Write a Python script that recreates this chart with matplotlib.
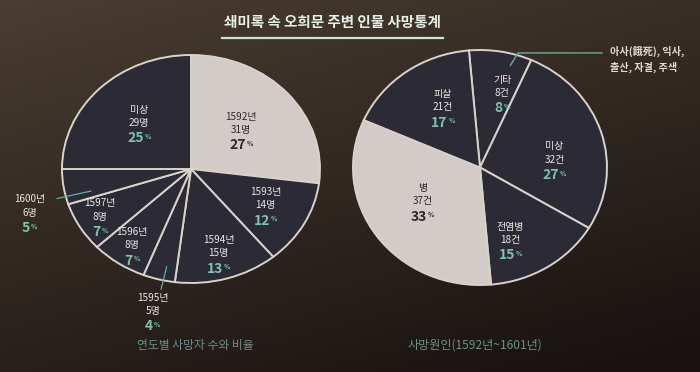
import matplotlib
matplotlib.use("Agg")
import matplotlib.pyplot as plt
import numpy as np

plt.rcParams['font.family'] = ['Noto Sans CJK KR', 'DejaVu Sans']

# ==========================
# Data
# ==========================
years = ['1592년', '1593년', '1594년', '1595년', '1596년', '1597년', '1600년', '미상']
year_counts = [31, 14, 15, 5, 8, 8, 6, 29]
year_pcts = [27, 12, 13, 4, 7, 7, 5, 25]

causes = ['기타', '미상', '전염병', '병', '피살']
cause_counts = [8, 32, 18, 37, 21]
cause_pcts = [8, 27, 15, 33, 17]

title = '쇄미록 속 오희문 주변 인물 사망통계'
left_caption = '연도별 사망자 수와 비율'
right_caption = '사망원인(1592년~1601년)'
other_note = '아사(餓死), 익사,\n출산, 자결, 주색'

# ==========================
# Style
# ==========================
DARK = '#2c2b35'
LIGHT = '#d3cbc7'
EDGE = '#d9d2cb'
TEXT_LIGHT = '#ebe7e1'
TEXT_DARK = '#2a2930'
TEAL = '#7cc4aa'
LEADER = '#66ad9e'


def put_label(ax, x, y, name, count, unit, pct, on_light=False):
    fg = TEXT_DARK if on_light else TEXT_LIGHT
    pc = TEXT_DARK if on_light else TEAL
    kw = dict(textcoords='offset points', ha='center', va='center', annotation_clip=False)
    ax.annotate(name, (x, y), xytext=(0, 9.5), fontsize=7.2, color=fg, **kw)
    ax.annotate(f'{count}{unit}', (x, y), xytext=(0, 0), fontsize=7.2, color=fg, **kw)
    num = ax.annotate(str(pct), (x, y), xytext=(-2.5, -11), fontsize=10, weight='bold',
                      color=pc, **kw)
    ax.annotate('%', xy=(1, 0.62), xycoords=num, xytext=(0.6, 0), textcoords='offset points',
                ha='left', va='center', fontsize=4.8, weight='bold', color=pc)


def polar(angle, r):
    a = np.deg2rad(angle)
    return r * np.cos(a), r * np.sin(a)


fig = plt.figure(figsize=(7, 3.72), dpi=100)

# background gradient (brown top-left -> almost black bottom-right)
bg = fig.add_axes([0, 0, 1, 1])
yy, xx = np.mgrid[0:1:200j, 0:1:300j]
t = np.clip(0.7 * yy + 0.35 * xx, 0, 1)[..., None]
c0 = np.array([74, 61, 49]) / 255
c1 = np.array([24, 19, 17]) / 255
bg.imshow(c0 * (1 - t) + c1 * t, extent=[0, 1, 0, 1], aspect='auto')
bg.axis('off')

# title + underline
fig.text(332 / 700, 1 - 22 / 372, title, ha='center', va='center',
         fontsize=10.5, weight='bold', color='#e6eee8')
fig.add_artist(plt.Line2D([222 / 700, 443 / 700], [1 - 38 / 372, 1 - 38 / 372],
                          color='#cfe2d9', lw=1.6))

# ==========================
# Left pie: deaths per year
# ==========================
axl = fig.add_axes([62 / 700, 1 - 283 / 372, 258 / 700, 228 / 372])
wl, _ = axl.pie(year_pcts, startangle=90, counterclock=False,
                colors=[LIGHT if i == 0 else DARK for i in range(len(years))],
                wedgeprops=dict(edgecolor=EDGE, linewidth=1.4))
axl.set_aspect('auto')
axl.set_xlim(-1, 1)
axl.set_ylim(-1, 1)

inside_r = {0: 0.52, 1: 0.66, 2: 0.77, 4: 0.81, 5: 0.82, 7: 0.57}
# outside labels: line angle shift, line r in, line r out, text angle shift, text r
outside = {3: (2, 0.88, 1.08, 1, 1.28), 6: (5, 0.80, 1.07, 8, 1.31)}

for i, w in enumerate(wl):
    mid = (w.theta1 + w.theta2) / 2
    if i in inside_r:
        x, y = polar(mid, inside_r[i])
        put_label(axl, x, y, years[i], year_counts[i], '명', year_pcts[i], on_light=(i == 0))
    else:
        da, r0, r1, dt, rt = outside[i]
        x0, y0 = polar(mid + da, r0)
        x1, y1 = polar(mid + da, r1)
        axl.plot([x0, x1], [y0, y1], color=LEADER, lw=0.9, clip_on=False)
        x, y = polar(mid + dt, rt)
        put_label(axl, x, y, years[i], year_counts[i], '명', year_pcts[i])

# ==========================
# Right pie: causes of death
# ==========================
axr = fig.add_axes([353 / 700, 1 - 285 / 372, 254 / 700, 235 / 372])
wr, _ = axr.pie(cause_pcts, startangle=95, counterclock=False,
                colors=[LIGHT if c == '병' else DARK for c in causes],
                wedgeprops=dict(edgecolor=EDGE, linewidth=1.4))
axr.set_aspect('auto')
axr.set_xlim(-1, 1)
axr.set_ylim(-1, 1)

label_r = [0.66, 0.59, 0.66, 0.535, 0.59]
label_shift = [-6, -11, -11, -3, -6]
for i, w in enumerate(wr):
    mid = (w.theta1 + w.theta2) / 2
    x, y = polar(mid + label_shift[i], label_r[i])
    put_label(axr, x, y, causes[i], cause_counts[i], '건', cause_pcts[i],
              on_light=(causes[i] == '병'))

# leader for 기타 -> note
mid = (wr[0].theta1 + wr[0].theta2) / 2
sx, sy = polar(mid - 6, 0.90)
axr.plot([sx, sx + 0.06, 0.96], [sy, 0.975, 0.975], color=LEADER, lw=1.0, clip_on=False)
axr.annotate(other_note, (1.02, 0.975), xytext=(0, 5.5), textcoords='offset points',
             ha='left', va='top', fontsize=7.3, weight='bold', color='#dedbd3',
             linespacing=1.6, annotation_clip=False)

# captions
fig.text(195 / 700, 1 - 345 / 372, left_caption, ha='center', va='center',
         fontsize=8.5, color='#6e8f89')
fig.text(475 / 700, 1 - 345 / 372, right_caption, ha='center', va='center',
         fontsize=8.7, color='#6e8f89')

fig.savefig('out.png', dpi=100)
